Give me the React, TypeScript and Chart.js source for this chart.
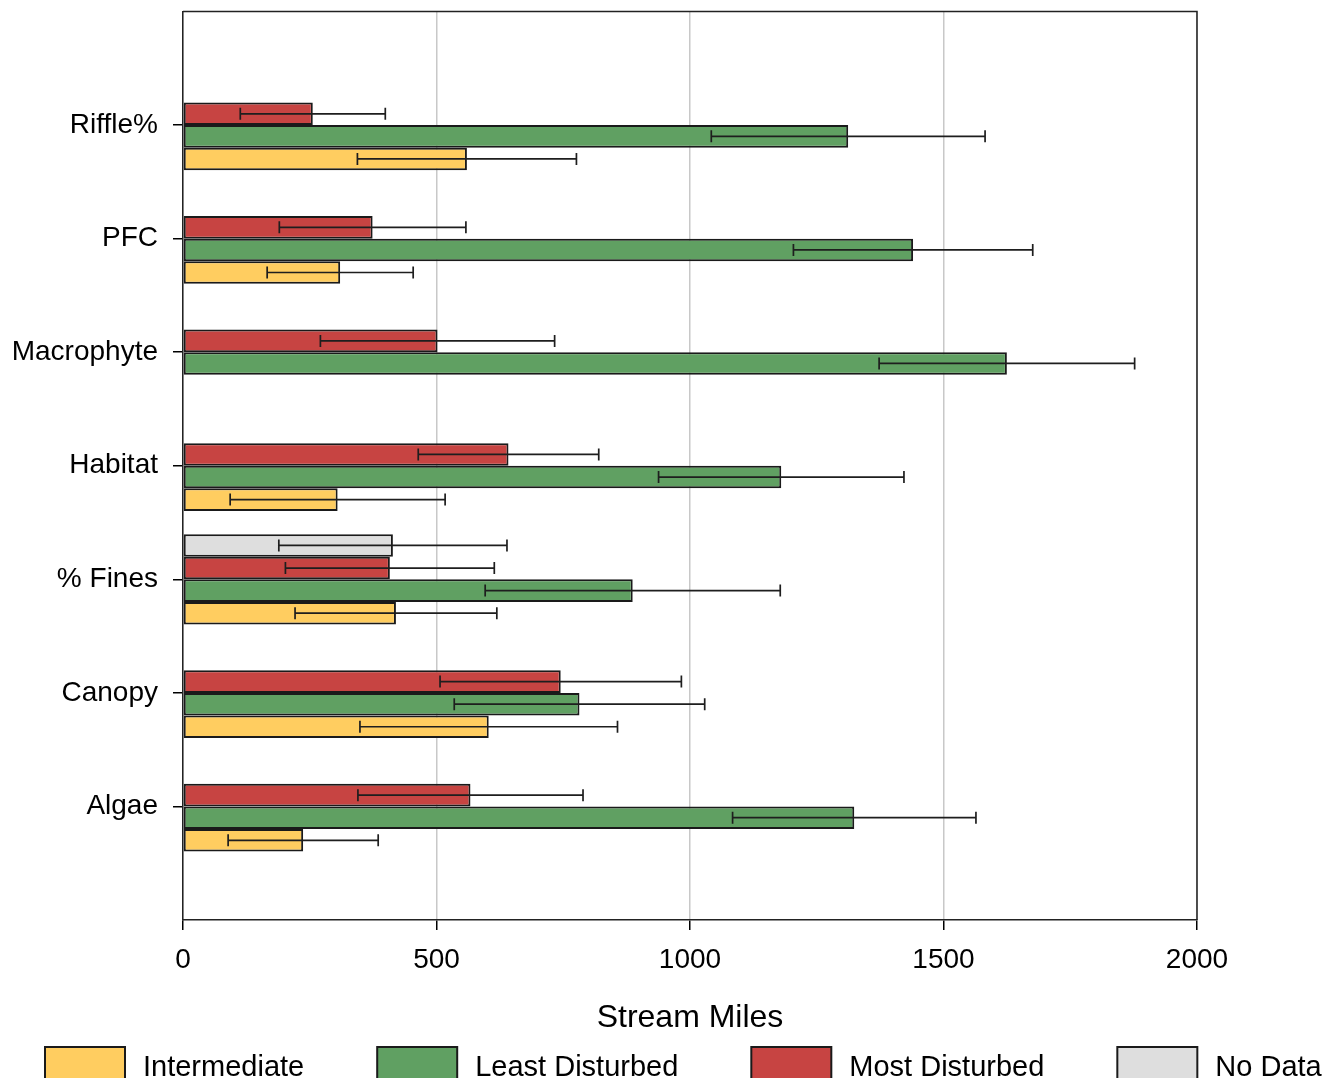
import React, { useEffect, useRef } from 'react';
import { Chart, registerables } from 'chart.js';

Chart.register(...registerables);

// ---------- data ----------
const categories = ['', 'Riffle%', 'PFC', 'Macrophyte', 'Habitat', '% Fines', 'Canopy', 'Algae', ''];

const noDataValues = [null, null, null, null, null, 414, null, null, null];
const noDataErrors = [null, null, null, null, null, 225, null, null, null];

const mostDisturbedValues = [null, 256, 374, 502, 642, 408, 745, 567, null];
const mostDisturbedErrors = [null, 143, 184, 231, 178, 206, 238, 222, null];

const leastDisturbedValues = [null, 1312, 1440, 1625, 1180, 887, 782, 1324, null];
const leastDisturbedErrors = [null, 270, 236, 252, 242, 291, 247, 240, null];

const intermediateValues = [null, 560, 310, null, 305, 420, 603, 237, null];
const intermediateErrors = [null, 216, 144, null, 212, 199, 254, 148, null];

const xTickValues = [0, 500, 1000, 1500, 2000];
const xAxisTitle = 'Stream Miles';

const FONT = '"Liberation Sans", Arial, Helvetica, sans-serif';

const errorBarPlugin = {
  id: 'errorBars',
  afterDatasetsDraw(chart: any) {
    const ctx = chart.ctx;
    const xScale = chart.scales.x;
    ctx.save();
    ctx.strokeStyle = '#1e1e1e';
    ctx.lineWidth = 1.7;
    chart.data.datasets.forEach((ds: any, i: number) => {
      const meta = chart.getDatasetMeta(i);
      meta.data.forEach((el: any, j: number) => {
        const v = ds.data[j];
        const e = ds.errors ? ds.errors[j] : null;
        if (v == null || e == null) return;
        const y = el.y;
        const x1 = xScale.getPixelForValue(v - e);
        const x2 = xScale.getPixelForValue(v + e);
        const cap = 6;
        ctx.beginPath();
        ctx.moveTo(x1, y);
        ctx.lineTo(x2, y);
        ctx.moveTo(x1, y - cap);
        ctx.lineTo(x1, y + cap);
        ctx.moveTo(x2, y - cap);
        ctx.lineTo(x2, y + cap);
        ctx.stroke();
      });
    });
    ctx.restore();
  },
};

const framePlugin = {
  id: 'frame',
  afterDatasetsDraw(chart: any) {
    const { ctx, chartArea } = chart;
    ctx.save();
    ctx.strokeStyle = '#222';
    ctx.lineWidth = 1.5;
    ctx.beginPath();
    ctx.moveTo(chartArea.left, chartArea.top);
    ctx.lineTo(chartArea.right, chartArea.top);
    ctx.lineTo(chartArea.right, chartArea.bottom);
    ctx.stroke();
    ctx.restore();
  },
};

const legendPlugin = {
  id: 'customLegend',
  afterDraw(chart: any) {
    const ctx = chart.ctx;
    ctx.save();
    ctx.font = `29px ${FONT}`;
    ctx.textBaseline = 'alphabetic';
    ctx.textAlign = 'left';
    let x = 45;
    const boxTop = 1047;
    const items = [...chart.data.datasets].reverse();
    for (const ds of items) {
      ctx.fillStyle = ds.backgroundColor;
      ctx.fillRect(x, boxTop, 80, 40);
      ctx.strokeStyle = '#1a1a1a';
      ctx.lineWidth = 2;
      ctx.strokeRect(x, boxTop, 80, 40);
      ctx.fillStyle = '#000';
      ctx.fillText(ds.label, x + 98, 1076);
      x += 98 + ctx.measureText(ds.label).width + 73;
    }
    ctx.restore();
  },
};

export default function App() {
  const canvasRef = useRef<HTMLCanvasElement | null>(null);

  useEffect(() => {
    document.body.style.margin = '0';
    const canvas = canvasRef.current;
    if (!canvas) return;

    const common = {
      borderColor: '#1a1a1a',
      borderWidth: 2,
      borderSkipped: false,
      barPercentage: 1,
      categoryPercentage: 0.795,
    };

    const chart = new Chart(canvas, {
      type: 'bar',
      data: {
        labels: categories,
        datasets: [
          { label: 'No Data', data: noDataValues, errors: noDataErrors, backgroundColor: '#dedede', ...common } as any,
          { label: 'Most Disturbed', data: mostDisturbedValues, errors: mostDisturbedErrors, backgroundColor: '#c74442', ...common } as any,
          { label: 'Least Disturbed', data: leastDisturbedValues, errors: leastDisturbedErrors, backgroundColor: '#60a062', ...common } as any,
          { label: 'Intermediate', data: intermediateValues, errors: intermediateErrors, backgroundColor: '#ffcd60', ...common } as any,
        ],
      },
      options: {
        indexAxis: 'y',
        animation: false,
        responsive: false,
        maintainAspectRatio: false,
        layout: { padding: { left: 0, right: 134, top: 11.5, bottom: 38 } },
        plugins: {
          legend: { display: false },
          tooltip: { enabled: false },
          title: { display: false },
        },
        scales: {
          x: {
            type: 'linear',
            position: 'bottom',
            min: 0,
            max: 2000,
            afterBuildTicks: (axis: any) => {
              axis.ticks = xTickValues.map((v) => ({ value: v }));
            },
            afterFit: (axis: any) => {
              axis.height = 120;
            },
            ticks: {
              font: { family: FONT, size: 28 },
              color: '#000',
              padding: 13,
              callback: (v: any) => String(v),
            },
            grid: {
              color: '#c8c8c8',
              lineWidth: 1.5,
              tickColor: '#000',
              tickLength: 10,
              drawTicks: true,
            },
            border: { color: '#222', width: 1.5 },
            title: {
              display: true,
              text: xAxisTitle,
              color: '#000',
              font: { family: FONT, size: 32 },
              padding: { top: 0, bottom: 3 },
            },
          },
          y: {
            type: 'category',
            offset: false,
            afterFit: (axis: any) => {
              axis.width = 183;
              axis.paddingTop = 0;
              axis.paddingBottom = 0;
            },
            ticks: {
              font: { family: FONT, size: 28 },
              color: '#000',
              padding: 15,
              autoSkip: false,
            },
            grid: {
              offset: false,
              drawOnChartArea: false,
              drawTicks: true,
              tickLength: 10,
              tickColor: (c: any) => (categories[c.index] ? '#000' : 'rgba(0,0,0,0)'),
              lineWidth: 1.5,
            },
            border: { color: '#222', width: 1.5 },
          },
        },
      } as any,
      plugins: [errorBarPlugin, framePlugin, legendPlugin],
    });

    return () => {
      chart.destroy();
    };
  }, []);

  return (
    <div style={{ width: 1331, height: 1078, overflow: 'hidden' }}>
      <canvas ref={canvasRef} width={1331} height={1078} style={{ display: 'block', width: 1331, height: 1078 }} />
    </div>
  );
}
